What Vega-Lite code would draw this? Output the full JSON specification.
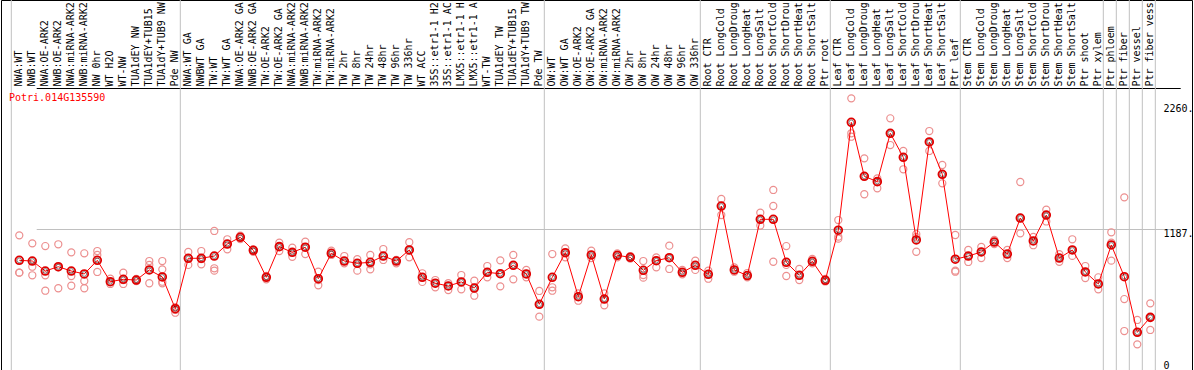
{
  "$schema": "https://vega.github.io/schema/vega-lite/v6.json",
  "width": 1191,
  "height": 370,
  "autosize": {"type": "none"},
  "padding": {"left": 1, "top": 0, "right": 2, "bottom": 0},
  "background": "white",
  "config": {"view": {"stroke": "black", "strokeWidth": 1}, "font": "DejaVu Sans Mono"},
  "title": {"text": "Potri.014G135590", "orient": "bottom", "anchor": "start", "frame": "group", "offset": 0, "dx": 8, "dy": -270, "baseline": "alphabetic", "color": "red", "font": "DejaVu Sans Mono", "fontSize": 10, "fontWeight": "normal"},
  "datasets": {
    "seps": [{"k": "00|NWA:WT"}, {"k": "13|NWA:WT GA"}, {"k": "41|OW:WT"}, {"k": "53|Root CTR"}, {"k": "63|Leaf CTR"}, {"k": "73|Stem CTR"}, {"k": "84|Ptr phloem"}, {"k": "85|Ptr fiber"}, {"k": "86|Ptr vessel"}, {"k": "87|Ptr fiber vess"}],
    "sepEnd": [{"k": "87|Ptr fiber vess"}],
    "means": [
      {"k": "00|NWA:WT", "v": 923}, {"k": "01|NWB:WT", "v": 917}, {"k": "02|NWA:OE-ARK2", "v": 833}, {"k": "03|NWB:OE-ARK2", "v": 869},
      {"k": "04|NWA:miRNA-ARK2", "v": 833}, {"k": "05|NWB:miRNA-ARK2", "v": 808}, {"k": "06|NW 0hr", "v": 923}, {"k": "07|WT H2O", "v": 743},
      {"k": "08|WT-NW", "v": 763}, {"k": "09|TUA1dEY NW", "v": 757}, {"k": "10|TUA1dEY+TUB15", "v": 842}, {"k": "11|TUA1dY+TUB9 NW", "v": 783},
      {"k": "12|Pde NW", "v": 516}, {"k": "13|NWA:WT GA", "v": 940}, {"k": "14|NWBWT GA", "v": 940}, {"k": "15|TW:WT", "v": 959},
      {"k": "16|TW:WT GA", "v": 1060}, {"k": "17|NWA:OE-ARK2 GA", "v": 1117}, {"k": "18|NWB:OE-ARK2 GA", "v": 1007}, {"k": "19|TW:OE-ARK2", "v": 780},
      {"k": "20|TW:OE-ARK2 GA", "v": 1038}, {"k": "21|NWA:miRNA-ARK2", "v": 990}, {"k": "22|NWB:miRNA-ARK2", "v": 1033}, {"k": "23|TW:miRNA-ARK2", "v": 768},
      {"k": "24|TW:miRNA-ARK2", "v": 982}, {"k": "25|TW 2hr", "v": 917}, {"k": "26|TW 8hr", "v": 898}, {"k": "27|TW 24hr", "v": 906},
      {"k": "28|TW 48hr", "v": 959}, {"k": "29|TW 96hr", "v": 917}, {"k": "30|TW 336hr", "v": 1010}, {"k": "31|WT ACC", "v": 780},
      {"k": "32|35S::etr1-1 H2", "v": 730}, {"k": "33|35S::etr1-1 AC", "v": 707}, {"k": "34|LMX5::etr1-1 H", "v": 741}, {"k": "35|LMX5::etr1-1 A", "v": 690},
      {"k": "36|WT-TW", "v": 822}, {"k": "37|TUA1dEY TW", "v": 810}, {"k": "38|TUA1dEY+TUB15", "v": 881}, {"k": "39|TUA1dY+TUB9 TW", "v": 808},
      {"k": "40|Pde TW", "v": 553}, {"k": "41|OW:WT", "v": 780}, {"k": "42|OW:WT GA", "v": 987}, {"k": "43|OW:OE-ARK2", "v": 617},
      {"k": "44|OW:OE-ARK2 GA", "v": 968}, {"k": "45|OW:miRNA-ARK2", "v": 597}, {"k": "46|OW:miRNA-ARK2", "v": 965}, {"k": "47|OW 2hr", "v": 948},
      {"k": "48|OW 8hr", "v": 839}, {"k": "49|OW 24hr", "v": 920}, {"k": "50|OW 48hr", "v": 945}, {"k": "51|OW 96hr", "v": 822},
      {"k": "52|OW 336hr", "v": 881}, {"k": "53|Root CTR", "v": 805}, {"k": "54|Root LongCold", "v": 1380}, {"k": "55|Root LongDroug", "v": 842},
      {"k": "56|Root LongHeat", "v": 795}, {"k": "57|Root LongSalt", "v": 1268}, {"k": "58|Root ShortCold", "v": 1268}, {"k": "59|Root ShortDrou", "v": 906},
      {"k": "60|Root ShortHeat", "v": 797}, {"k": "61|Root ShortSalt", "v": 915}, {"k": "62|Ptr root", "v": 755}, {"k": "63|Leaf CTR", "v": 1176},
      {"k": "64|Leaf LongCold", "v": 2084}, {"k": "65|Leaf LongDroug", "v": 1630}, {"k": "66|Leaf LongHeat", "v": 1585}, {"k": "67|Leaf LongSalt", "v": 1992},
      {"k": "68|Leaf ShortCold", "v": 1790}, {"k": "69|Leaf ShortDrou", "v": 1094}, {"k": "70|Leaf ShortHeat", "v": 1919}, {"k": "71|Leaf ShortSalt", "v": 1647},
      {"k": "72|Ptr leaf", "v": 932}, {"k": "73|Stem CTR", "v": 959}, {"k": "74|Stem LongCold", "v": 993}, {"k": "75|Stem LongDroug", "v": 1077},
      {"k": "76|Stem LongHeat", "v": 976}, {"k": "77|Stem LongSalt", "v": 1279}, {"k": "78|Stem ShortCold", "v": 1086}, {"k": "79|Stem ShortDrou", "v": 1304},
      {"k": "80|Stem ShortHeat", "v": 942}, {"k": "81|Stem ShortSalt", "v": 1010}, {"k": "82|Ptr shoot", "v": 825}, {"k": "83|Ptr xylem", "v": 724},
      {"k": "84|Ptr phloem", "v": 1052}, {"k": "85|Ptr fiber", "v": 785}, {"k": "86|Ptr vessel", "v": 317}, {"k": "87|Ptr fiber vess", "v": 443}
    ],
    "reps": [
      {"k": "00|NWA:WT", "v": 1133}, {"k": "00|NWA:WT", "v": 819}, {"k": "00|NWA:WT", "v": 819},
      {"k": "01|NWB:WT", "v": 1066}, {"k": "01|NWB:WT", "v": 869}, {"k": "01|NWB:WT", "v": 797},
      {"k": "02|NWA:OE-ARK2", "v": 1043}, {"k": "02|NWA:OE-ARK2", "v": 797}, {"k": "02|NWA:OE-ARK2", "v": 667},
      {"k": "03|NWB:OE-ARK2", "v": 1058}, {"k": "03|NWB:OE-ARK2", "v": 863}, {"k": "03|NWB:OE-ARK2", "v": 688},
      {"k": "04|NWA:miRNA-ARK2", "v": 990}, {"k": "04|NWA:miRNA-ARK2", "v": 791}, {"k": "04|NWA:miRNA-ARK2", "v": 709},
      {"k": "05|NWB:miRNA-ARK2", "v": 982}, {"k": "05|NWB:miRNA-ARK2", "v": 749}, {"k": "05|NWB:miRNA-ARK2", "v": 688},
      {"k": "06|NW 0hr", "v": 1001}, {"k": "06|NW 0hr", "v": 968}, {"k": "06|NW 0hr", "v": 825},
      {"k": "07|WT H2O", "v": 768}, {"k": "07|WT H2O", "v": 741}, {"k": "07|WT H2O", "v": 724},
      {"k": "08|WT-NW", "v": 819}, {"k": "08|WT-NW", "v": 724}, {"k": "08|WT-NW", "v": 757},
      {"k": "09|TUA1dEY NW", "v": 766}, {"k": "09|TUA1dEY NW", "v": 749}, {"k": "09|TUA1dEY NW", "v": 757},
      {"k": "10|TUA1dEY+TUB15", "v": 917}, {"k": "10|TUA1dEY+TUB15", "v": 884}, {"k": "10|TUA1dEY+TUB15", "v": 730},
      {"k": "11|TUA1dY+TUB9 NW", "v": 917}, {"k": "11|TUA1dY+TUB9 NW", "v": 847}, {"k": "11|TUA1dY+TUB9 NW", "v": 743}, {"k": "11|TUA1dY+TUB9 NW", "v": 730},
      {"k": "12|Pde NW", "v": 528}, {"k": "12|Pde NW", "v": 505}, {"k": "12|Pde NW", "v": 482},
      {"k": "13|NWA:WT GA", "v": 993}, {"k": "13|NWA:WT GA", "v": 942}, {"k": "13|NWA:WT GA", "v": 884},
      {"k": "14|NWBWT GA", "v": 1001}, {"k": "14|NWBWT GA", "v": 934}, {"k": "14|NWBWT GA", "v": 889},
      {"k": "15|TW:WT", "v": 1170}, {"k": "15|TW:WT", "v": 856}, {"k": "15|TW:WT", "v": 836},
      {"k": "16|TW:WT GA", "v": 1100}, {"k": "16|TW:WT GA", "v": 1060}, {"k": "16|TW:WT GA", "v": 1016},
      {"k": "17|NWA:OE-ARK2 GA", "v": 1130}, {"k": "17|NWA:OE-ARK2 GA", "v": 1117}, {"k": "17|NWA:OE-ARK2 GA", "v": 1102},
      {"k": "18|NWB:OE-ARK2 GA", "v": 1016}, {"k": "18|NWB:OE-ARK2 GA", "v": 1007}, {"k": "18|NWB:OE-ARK2 GA", "v": 995},
      {"k": "19|TW:OE-ARK2", "v": 791}, {"k": "19|TW:OE-ARK2", "v": 780}, {"k": "19|TW:OE-ARK2", "v": 763},
      {"k": "20|TW:OE-ARK2 GA", "v": 1071}, {"k": "20|TW:OE-ARK2 GA", "v": 1038}, {"k": "20|TW:OE-ARK2 GA", "v": 1001},
      {"k": "21|NWA:miRNA-ARK2", "v": 1029}, {"k": "21|NWA:miRNA-ARK2", "v": 990}, {"k": "21|NWA:miRNA-ARK2", "v": 953},
      {"k": "22|NWB:miRNA-ARK2", "v": 1080}, {"k": "22|NWB:miRNA-ARK2", "v": 1033}, {"k": "22|NWB:miRNA-ARK2", "v": 976},
      {"k": "23|TW:miRNA-ARK2", "v": 827}, {"k": "23|TW:miRNA-ARK2", "v": 757}, {"k": "23|TW:miRNA-ARK2", "v": 713},
      {"k": "24|TW:miRNA-ARK2", "v": 1004}, {"k": "24|TW:miRNA-ARK2", "v": 982}, {"k": "24|TW:miRNA-ARK2", "v": 968},
      {"k": "25|TW 2hr", "v": 959}, {"k": "25|TW 2hr", "v": 917}, {"k": "25|TW 2hr", "v": 898},
      {"k": "26|TW 8hr", "v": 932}, {"k": "26|TW 8hr", "v": 898}, {"k": "26|TW 8hr", "v": 836},
      {"k": "27|TW 24hr", "v": 968}, {"k": "27|TW 24hr", "v": 889}, {"k": "27|TW 24hr", "v": 847},
      {"k": "28|TW 48hr", "v": 1018}, {"k": "28|TW 48hr", "v": 959}, {"k": "28|TW 48hr", "v": 926},
      {"k": "29|TW 96hr", "v": 926}, {"k": "29|TW 96hr", "v": 917}, {"k": "29|TW 96hr", "v": 898},
      {"k": "30|TW 336hr", "v": 1075}, {"k": "30|TW 336hr", "v": 1010}, {"k": "30|TW 336hr", "v": 948},
      {"k": "31|WT ACC", "v": 814}, {"k": "31|WT ACC", "v": 780}, {"k": "31|WT ACC", "v": 741},
      {"k": "32|35S::etr1-1 H2", "v": 757}, {"k": "32|35S::etr1-1 H2", "v": 730}, {"k": "32|35S::etr1-1 H2", "v": 696},
      {"k": "33|35S::etr1-1 AC", "v": 730}, {"k": "33|35S::etr1-1 AC", "v": 707}, {"k": "33|35S::etr1-1 AC", "v": 673},
      {"k": "34|LMX5::etr1-1 H", "v": 799}, {"k": "34|LMX5::etr1-1 H", "v": 741}, {"k": "34|LMX5::etr1-1 H", "v": 679},
      {"k": "35|LMX5::etr1-1 A", "v": 751}, {"k": "35|LMX5::etr1-1 A", "v": 690}, {"k": "35|LMX5::etr1-1 A", "v": 625},
      {"k": "36|WT-TW", "v": 875}, {"k": "36|WT-TW", "v": 822}, {"k": "36|WT-TW", "v": 780},
      {"k": "37|TUA1dEY TW", "v": 923}, {"k": "37|TUA1dEY TW", "v": 810}, {"k": "37|TUA1dEY TW", "v": 704},
      {"k": "38|TUA1dEY+TUB15", "v": 968}, {"k": "38|TUA1dEY+TUB15", "v": 881}, {"k": "38|TUA1dEY+TUB15", "v": 763},
      {"k": "39|TUA1dY+TUB9 TW", "v": 842}, {"k": "39|TUA1dY+TUB9 TW", "v": 808}, {"k": "39|TUA1dY+TUB9 TW", "v": 780},
      {"k": "40|Pde TW", "v": 665}, {"k": "40|Pde TW", "v": 553}, {"k": "40|Pde TW", "v": 449},
      {"k": "41|OW:WT", "v": 976}, {"k": "41|OW:WT", "v": 696}, {"k": "41|OW:WT", "v": 667},
      {"k": "42|OW:WT GA", "v": 1024}, {"k": "42|OW:WT GA", "v": 987}, {"k": "42|OW:WT GA", "v": 948},
      {"k": "43|OW:OE-ARK2", "v": 645}, {"k": "43|OW:OE-ARK2", "v": 617}, {"k": "43|OW:OE-ARK2", "v": 583},
      {"k": "44|OW:OE-ARK2 GA", "v": 1004}, {"k": "44|OW:OE-ARK2 GA", "v": 968}, {"k": "44|OW:OE-ARK2 GA", "v": 942},
      {"k": "45|OW:miRNA-ARK2", "v": 645}, {"k": "45|OW:miRNA-ARK2", "v": 597}, {"k": "45|OW:miRNA-ARK2", "v": 544},
      {"k": "46|OW:miRNA-ARK2", "v": 982}, {"k": "46|OW:miRNA-ARK2", "v": 965}, {"k": "46|OW:miRNA-ARK2", "v": 948},
      {"k": "47|OW 2hr", "v": 959}, {"k": "47|OW 2hr", "v": 948}, {"k": "47|OW 2hr", "v": 937},
      {"k": "48|OW 8hr", "v": 917}, {"k": "48|OW 8hr", "v": 799}, {"k": "48|OW 8hr", "v": 777},
      {"k": "49|OW 24hr", "v": 948}, {"k": "49|OW 24hr", "v": 920}, {"k": "49|OW 24hr", "v": 864},
      {"k": "50|OW 48hr", "v": 1046}, {"k": "50|OW 48hr", "v": 945}, {"k": "50|OW 48hr", "v": 850},
      {"k": "51|OW 96hr", "v": 842}, {"k": "51|OW 96hr", "v": 822}, {"k": "51|OW 96hr", "v": 805},
      {"k": "52|OW 336hr", "v": 920}, {"k": "52|OW 336hr", "v": 881}, {"k": "52|OW 336hr", "v": 842},
      {"k": "53|Root CTR", "v": 836}, {"k": "53|Root CTR", "v": 805}, {"k": "53|Root CTR", "v": 768},
      {"k": "54|Root LongCold", "v": 1439}, {"k": "54|Root LongCold", "v": 1380}, {"k": "54|Root LongCold", "v": 1304},
      {"k": "55|Root LongDroug", "v": 864}, {"k": "55|Root LongDroug", "v": 842}, {"k": "55|Root LongDroug", "v": 827},
      {"k": "56|Root LongHeat", "v": 816}, {"k": "56|Root LongHeat", "v": 795}, {"k": "56|Root LongHeat", "v": 780},
      {"k": "57|Root LongSalt", "v": 1324}, {"k": "57|Root LongSalt", "v": 1268}, {"k": "57|Root LongSalt", "v": 1216},
      {"k": "58|Root ShortCold", "v": 1515}, {"k": "58|Root ShortCold", "v": 1380}, {"k": "58|Root ShortCold", "v": 911},
      {"k": "59|Root ShortDrou", "v": 1043}, {"k": "59|Root ShortDrou", "v": 884}, {"k": "59|Root ShortDrou", "v": 791},
      {"k": "60|Root ShortHeat", "v": 850}, {"k": "60|Root ShortHeat", "v": 797}, {"k": "60|Root ShortHeat", "v": 757},
      {"k": "61|Root ShortSalt", "v": 934}, {"k": "61|Root ShortSalt", "v": 915}, {"k": "61|Root ShortSalt", "v": 898},
      {"k": "62|Ptr root", "v": 766}, {"k": "62|Ptr root", "v": 755}, {"k": "62|Ptr root", "v": 745},
      {"k": "63|Leaf CTR", "v": 1262}, {"k": "63|Leaf CTR", "v": 1122}, {"k": "63|Leaf CTR", "v": 1105},
      {"k": "64|Leaf LongCold", "v": 2286}, {"k": "64|Leaf LongCold", "v": 1992}, {"k": "64|Leaf LongCold", "v": 1963},
      {"k": "65|Leaf LongDroug", "v": 1781}, {"k": "65|Leaf LongDroug", "v": 1630}, {"k": "65|Leaf LongDroug", "v": 1479},
      {"k": "66|Leaf LongHeat", "v": 1613}, {"k": "66|Leaf LongHeat", "v": 1585}, {"k": "66|Leaf LongHeat", "v": 1529},
      {"k": "67|Leaf LongSalt", "v": 2118}, {"k": "67|Leaf LongSalt", "v": 1992}, {"k": "67|Leaf LongSalt", "v": 1893},
      {"k": "68|Leaf ShortCold", "v": 1843}, {"k": "68|Leaf ShortCold", "v": 1790}, {"k": "68|Leaf ShortCold", "v": 1689},
      {"k": "69|Leaf ShortDrou", "v": 1144}, {"k": "69|Leaf ShortDrou", "v": 1119}, {"k": "69|Leaf ShortDrou", "v": 995},
      {"k": "70|Leaf ShortHeat", "v": 2011}, {"k": "70|Leaf ShortHeat", "v": 1919}, {"k": "70|Leaf ShortHeat", "v": 1843},
      {"k": "71|Leaf ShortSalt", "v": 1725}, {"k": "71|Leaf ShortSalt", "v": 1647}, {"k": "71|Leaf ShortSalt", "v": 1571},
      {"k": "72|Ptr leaf", "v": 1136}, {"k": "72|Ptr leaf", "v": 836}, {"k": "72|Ptr leaf", "v": 827},
      {"k": "73|Stem CTR", "v": 1010}, {"k": "73|Stem CTR", "v": 959}, {"k": "73|Stem CTR", "v": 909},
      {"k": "74|Stem LongCold", "v": 1035}, {"k": "74|Stem LongCold", "v": 993}, {"k": "74|Stem LongCold", "v": 942},
      {"k": "75|Stem LongDroug", "v": 1094}, {"k": "75|Stem LongDroug", "v": 1077}, {"k": "75|Stem LongDroug", "v": 1060},
      {"k": "76|Stem LongHeat", "v": 1010}, {"k": "76|Stem LongHeat", "v": 976}, {"k": "76|Stem LongHeat", "v": 942},
      {"k": "77|Stem LongSalt", "v": 1582}, {"k": "77|Stem LongSalt", "v": 1279}, {"k": "77|Stem LongSalt", "v": 1150},
      {"k": "78|Stem ShortCold", "v": 1120}, {"k": "78|Stem ShortCold", "v": 1086}, {"k": "78|Stem ShortCold", "v": 1050},
      {"k": "79|Stem ShortDrou", "v": 1350}, {"k": "79|Stem ShortDrou", "v": 1304}, {"k": "79|Stem ShortDrou", "v": 1250},
      {"k": "80|Stem ShortHeat", "v": 975}, {"k": "80|Stem ShortHeat", "v": 942}, {"k": "80|Stem ShortHeat", "v": 910},
      {"k": "81|Stem ShortSalt", "v": 1100}, {"k": "81|Stem ShortSalt", "v": 1010}, {"k": "81|Stem ShortSalt", "v": 960},
      {"k": "82|Ptr shoot", "v": 875}, {"k": "82|Ptr shoot", "v": 825}, {"k": "82|Ptr shoot", "v": 774},
      {"k": "83|Ptr xylem", "v": 780}, {"k": "83|Ptr xylem", "v": 724}, {"k": "83|Ptr xylem", "v": 679},
      {"k": "84|Ptr phloem", "v": 1159}, {"k": "84|Ptr phloem", "v": 1071}, {"k": "84|Ptr phloem", "v": 920},
      {"k": "85|Ptr fiber", "v": 1453}, {"k": "85|Ptr fiber", "v": 597}, {"k": "85|Ptr fiber", "v": 328},
      {"k": "86|Ptr vessel", "v": 421}, {"k": "86|Ptr vessel", "v": 317}, {"k": "86|Ptr vessel", "v": 216},
      {"k": "87|Ptr fiber vess", "v": 561}, {"k": "87|Ptr fiber vess", "v": 443}, {"k": "87|Ptr fiber vess", "v": 337}
    ]
  },
  "encoding": {
    "x": {
      "field": "k", "type": "ordinal",
      "scale": {"type": "band", "paddingInner": 0, "paddingOuter": 0, "range": [11.8, 1155.8]},
      "axis": {"orient": "top", "offset": -88, "title": null, "domain": false, "ticks": false, "labelAngle": 270, "labelAlign": "left", "labelBaseline": "middle", "labelPadding": 2, "labelFont": "DejaVu Sans Mono", "labelFontSize": 10, "labelColor": "black", "labelOverlap": false, "labelLimit": 0, "labelBound": false, "labelExpr": "substring(datum.value, 3)", "grid": false}
    }
  },
  "layer": [
    {"data": {"name": "seps"}, "mark": {"type": "rule", "color": "#c0c0c0", "strokeWidth": 1},
     "encoding": {"x": {"field": "k", "type": "ordinal", "bandPosition": -0.115}}},
    {"data": {"name": "sepEnd"}, "mark": {"type": "rule", "color": "#c0c0c0", "strokeWidth": 1},
     "encoding": {"x": {"field": "k", "type": "ordinal", "bandPosition": 0.885}}},
    {
      "encoding": {
        "y": {
          "field": "v", "type": "quantitative",
          "scale": {"domain": [0, 2373], "range": [370, 88], "nice": false, "zero": true},
          "axis": {"orient": "right", "offset": -29, "title": null, "domain": false, "ticks": false, "values": [0, 1187, 2260, 2373], "labelExpr": "datum.value == 0 ? '0' : datum.value == 2373 ? '' : datum.value + '.'", "labelAlign": "left", "labelPadding": 0, "labelFont": "DejaVu Sans Mono", "labelFontSize": 10, "labelColor": "black",
            "labelBaseline": {"condition": {"test": "datum.value == 0", "value": "bottom"}, "value": "top"},
            "labelOffset": {"condition": {"test": "datum.value == 2260", "value": 2}, "value": 0},
            "grid": true, "gridWidth": 1,
            "gridColor": {"condition": {"test": "datum.value == 2373", "value": "black"}, "value": "#c0c0c0"},
            "gridOpacity": {"condition": {"test": "datum.value == 1187 || datum.value == 2373", "value": 1}, "value": 0},
            "labelOverlap": false, "labelFlush": false}
        }
      },
      "layer": [
        {"data": {"name": "reps"}, "mark": {"type": "point", "shape": "circle", "filled": false, "stroke": "#ec8f8f", "strokeWidth": 1.2, "size": 50, "opacity": 1}},
        {"data": {"name": "means"}, "mark": {"type": "line", "color": "#ff0000", "strokeWidth": 1}},
        {"data": {"name": "means"}, "mark": {"type": "point", "shape": "circle", "filled": false, "stroke": "#e00000", "strokeWidth": 1.8, "size": 60, "opacity": 1}},
        {"data": {"name": "means"}, "mark": {"type": "point", "shape": "circle", "filled": false, "stroke": "#000000", "strokeWidth": 0.6, "size": 22, "opacity": 0.8}}
      ]
    }
  ]
}
